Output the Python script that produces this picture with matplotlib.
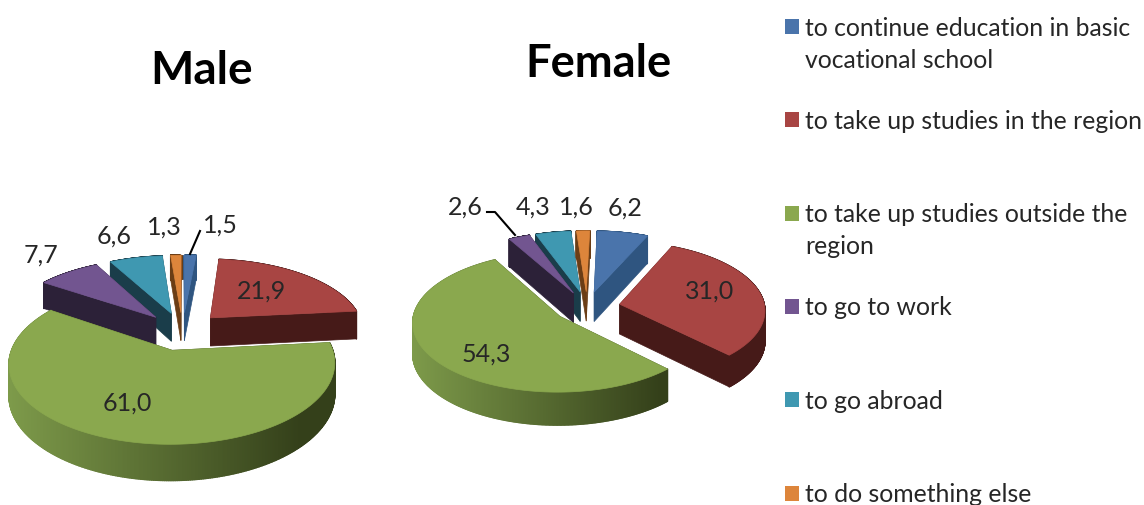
import numpy as np
import matplotlib
matplotlib.use("Agg")
import matplotlib.pyplot as plt
from matplotlib.collections import PolyCollection
from matplotlib.colors import to_rgb
from matplotlib.patches import Polygon, Rectangle

categories = ["to continue education in basic\nvocational school",
              "to take up studies in the region",
              "to take up studies outside the\nregion",
              "to go to work",
              "to go abroad",
              "to do something else"]
male = [1.5, 21.9, 61.0, 7.7, 6.6, 1.3]
female = [6.2, 31.0, 54.3, 2.6, 4.3, 1.6]

top_colors = ["#4a74ab", "#a84543", "#8aa84e", "#725590", "#3f98b1", "#dd853b"]
side_colors = ["#2f5580", "#461a18", "#34401a", "#2c2138", "#1a3d4a", "#6b3d15"]
wall_left = ["#2f5580", "#461a18", "#7d9a4a", "#2c2138", "#1a3d4a", "#6b3d15"]

plt.rcParams["font.family"] = ["Lato", "DejaVu Sans"]
TEXT = "#262626"


def project(u, v, g):
    s = 1 / (1 + g["persp"] * v)
    return g["cx"] + g["rx"] * u * s, g["cy"] - g["ry"] * v * s, g["depth"] * s


def draw_pie(ax, values, g):
    edges = np.radians(np.cumsum([0] + values) / sum(values) * 360 + g["first"])
    mids = (edges[:-1] + edges[1:]) / 2
    # back slices first so that front ones paint over them
    for i in np.argsort(-np.cos(mids)):
        off_u = g["explode"] * np.sin(mids[i])
        off_v = g["explode"] * np.cos(mids[i])
        a = np.linspace(edges[i], edges[i + 1], 400)
        x, y, d = project(off_u + np.sin(a), off_v + np.cos(a), g)
        x0, y0, d0 = project(off_u, off_v, g)

        for xe, ye, de in ((x[0], y[0], d[0]), (x[-1], y[-1], d[-1])):
            ax.add_patch(Polygon([(x0, y0), (xe, ye), (xe, ye + de), (x0, y0 + d0)],
                                 fc=side_colors[i], ec=side_colors[i], lw=0.5))

        quads = []
        colors = []
        c1 = np.array(to_rgb(wall_left[i]))
        c2 = np.array(to_rgb(side_colors[i]))
        for k in range(len(a) - 1):
            quads.append([(x[k], y[k]), (x[k + 1], y[k + 1]),
                          (x[k + 1], y[k + 1] + d[k + 1]), (x[k], y[k] + d[k])])
            t = np.clip((x[k] - g["grad0"]) / (g["grad1"] - g["grad0"]), 0, 1)
            colors.append(c1 + (c2 - c1) * t)
        ax.add_collection(PolyCollection(quads, facecolors=colors,
                                         edgecolors=colors, linewidths=1))

        ax.add_patch(Polygon(np.column_stack([np.r_[x0, x], np.r_[y0, y]]),
                             fc=top_colors[i], ec=top_colors[i], lw=0.5))


fig = plt.figure(figsize=(11.44, 5.06), dpi=100)
ax = fig.add_axes([0, 0, 1, 1])
ax.set_xlim(0, 1144)
ax.set_ylim(506, 0)
ax.axis("off")

male_geom = dict(cx=182.5, cy=332, rx=154, ry=72, persp=0.16, explode=0.265,
                 depth=29, grad0=10, grad1=300, first=0)
female_geom = dict(cx=587, cy=308, rx=145, ry=68, persp=0.08, explode=0.23,
                   depth=30, grad0=412, grad1=660, first=1.5)
draw_pie(ax, male, male_geom)
draw_pie(ax, female, female_geom)

ax.text(202, 71, "Male", fontsize=33, fontweight="bold", color="black",
        ha="center", va="center")
ax.text(598, 64, "Female", fontsize=32.7, fontweight="bold", color="black",
        ha="center", va="center")

male_pos = [(220, 225), (262, 291), (127, 403), (41, 255), (114, 236), (164, 227)]
female_pos = [(625, 208), (710, 291), (486, 354), (465, 207), (533, 207), (576, 207)]
for vals, pos in ((male, male_pos), (female, female_pos)):
    for val, (x, y) in zip(vals, pos):
        ax.text(x, y, f"{val:.1f}".replace(".", ","), fontsize=18, color=TEXT,
                ha="center", va="center")

ax.plot([200, 190], [232, 255], color="black", lw=1.5)
ax.plot([487, 495, 515], [213, 213, 236], color="black", lw=1.5)

for i, label in enumerate(categories):
    y = 28 + 93.3 * i
    ax.add_patch(Rectangle((785, y - 8), 14, 15, fc=top_colors[i], ec="none"))
    for j, line in enumerate(label.split("\n")):
        ax.text(805, y + 32 * j, line, fontsize=17.8, color=TEXT,
                ha="left", va="center")

fig.savefig("out.png", dpi=100)
